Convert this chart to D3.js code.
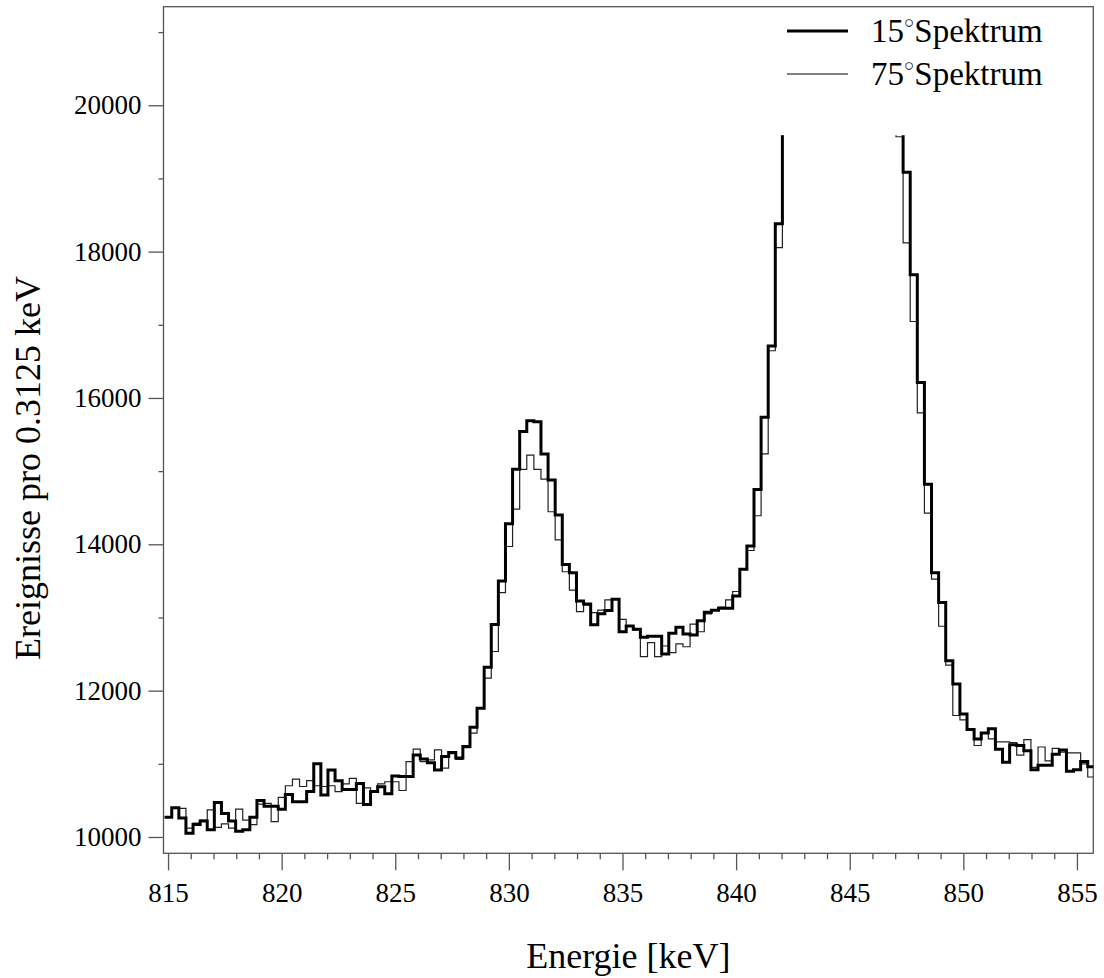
<!DOCTYPE html>
<html>
<head>
<meta charset="utf-8">
<script src="https://cdn.jsdelivr.net/npm/d3@7"></script>
<style>
  body { margin: 0; background: #fff; }
  svg { display: block; }
  text { font-family: "Liberation Serif", "Times New Roman", serif; fill: #000; }
</style>
</head>
<body>
<svg id="chart" width="1104" height="978"></svg>
<script>
// binning of both spectra (keV)
const binStart = 814.85;
const binWidth = 0.3125;

// counts per bin, 15 degree spectrum (bins 87-103 are off scale, estimated)
const spec15 = [
  10270, 10400, 10260, 10050, 10170, 10220, 10100, 10470, 10320, 10220,
  10080, 10100, 10270, 10500, 10420, 10420, 10380, 10580, 10480, 10480,
  10620, 11000, 10575, 10915, 10770, 10650, 10650, 10730, 10445, 10620,
  10685, 10590, 10835, 10825, 10825, 11120, 11065, 11015, 10915, 11100,
  11155, 11080, 11235, 11500, 11760, 12320, 12905, 13500, 14280, 15025,
  15540, 15690, 15675, 15235, 14880, 14400, 13725, 13612, 13225, 13185,
  12900, 13050, 13095, 13250, 12805, 12885, 12840, 12730, 12745, 12745,
  12500, 12785, 12865, 12775, 12760, 12955, 13070, 13100, 13125, 13125,
  13295, 13660, 13975, 14750, 15735, 16710, 18380, 24000, 31000, 40000,
  52000, 64000, 74000, 78000, 75000, 67000, 56000, 45000, 36000, 29000,
  24500, 21800, 20400, 19900, 19085, 17685, 16210, 14820, 13610, 13205,
  12410, 12090, 11680, 11470, 11340, 11420, 11480, 11200, 11020, 11260,
  11250, 11180, 10920, 10980, 10980, 11130, 11190, 10900, 10920, 11030,
  10960
];

// counts per bin, 75 degree spectrum (bins 87-102 are off scale, estimated)
const spec75 = [
  10270, 10400, 10390, 10120, 10190, 10230, 10370, 10130, 10180, 10120,
  10380, 10230, 10170, 10450, 10460, 10210, 10540, 10700, 10790, 10690,
  10770, 10700, 10690, 10700, 10620, 10725, 10800, 10460, 10670, 10620,
  10725, 10755, 10755, 10635, 11030, 11200, 11030, 11055, 11190, 10940,
  11140, 11060, 11220, 11420, 11760, 12170, 12535, 13340, 13970, 14480,
  15025, 15220, 15025, 14890, 14445, 14060, 13625, 13375, 13080, 13170,
  13065, 13100, 13240, 13250, 12975, 12885, 12830, 12465, 12655, 12465,
  12610, 12520, 12640, 12600, 12910, 12805, 13050, 13100, 13140, 13240,
  13355, 13660, 13915, 14390, 15235, 16645, 18055, 23000, 30000, 39000,
  51000, 63000, 73000, 77000, 74000, 66000, 55000, 44000, 35000, 28500,
  24000, 21500, 20200, 19570, 18120, 17045, 15795, 14425, 13525, 12880,
  12350, 11660, 11600, 11480, 11250, 11420, 11340, 11300, 11300, 11290,
  11120, 11330, 10950, 11230, 11040, 11210, 11160, 11150, 11150, 11000,
  10820
];

const xRange = [814.8, 855.72];
const yRange = [9777, 21347];
const yClip = 19590;            // histograms are cut off above this

const xMajor = d3.range(815, 856, 5);
const xMinor = d3.range(815, 856, 1).filter(v => v % 5 !== 0);
const yMajor = d3.range(10000, 20001, 2000);
const yMinor = d3.range(11000, 21001, 2000);

const legendItems = [
  {deg: '15', label: 'Spektrum', width: 3},
  {deg: '75', label: 'Spektrum', width: 1.2}
];

const margin = {top: 6.7, left: 163.5};
const W = 929.8, H = 846.6;

const svg = d3.select('#chart');
const g = svg.append('g').attr('transform', `translate(${margin.left},${margin.top})`);

const x = d3.scaleLinear().domain(xRange).range([0, W]);
const y = d3.scaleLinear().domain(yRange).range([H, 0]);

// clip
svg.append('defs').append('clipPath').attr('id', 'clip')
  .append('rect')
  .attr('x', 0).attr('y', y(yClip))
  .attr('width', W).attr('height', H - y(yClip));

// axes
const axisColor = '#555';
function styleAxis(sel) {
  sel.select('.domain').remove();
  sel.selectAll('line').attr('stroke', axisColor).attr('stroke-width', 1.3);
  sel.selectAll('text').style('font-size', '27px').attr('fill', '#000');
}

g.append('g').attr('transform', `translate(0,${H})`)
  .call(d3.axisBottom(x).tickValues(xMinor).tickSize(6).tickFormat(''))
  .call(styleAxis);
g.append('g').attr('transform', `translate(0,${H})`)
  .call(d3.axisBottom(x).tickValues(xMajor).tickSize(17).tickFormat(d3.format('d')))
  .call(styleAxis)
  .call(s => s.selectAll('text').attr('y', 48.5).attr('dy', 0));

g.append('g')
  .call(d3.axisLeft(y).tickValues(yMinor).tickSize(5).tickFormat(''))
  .call(styleAxis);
g.append('g')
  .call(d3.axisLeft(y).tickValues(yMajor).tickSize(15).tickPadding(7).tickFormat(d3.format('d')))
  .call(styleAxis);

// frame
g.append('rect')
  .attr('width', W).attr('height', H)
  .attr('fill', 'none').attr('stroke', axisColor).attr('stroke-width', 1.3);

// histograms
function steps(values) {
  const pts = values.map((v, i) => [binStart + i * binWidth, v]);
  pts.push([binStart + values.length * binWidth, values[values.length - 1]]);
  return pts;
}
const line = d3.line()
  .x(d => x(d[0]))
  .y(d => y(d[1]))
  .curve(d3.curveStepAfter);

const plot = g.append('g').attr('clip-path', 'url(#clip)');
plot.append('path').datum(steps(spec75))
  .attr('d', line).attr('fill', 'none')
  .attr('stroke', '#222').attr('stroke-width', 1.2);
plot.append('path').datum(steps(spec15))
  .attr('d', line).attr('fill', 'none')
  .attr('stroke', '#000').attr('stroke-width', 3)
  .attr('stroke-linejoin', 'miter');

// legend
const legend = svg.append('g');
legendItems.forEach((d, i) => {
  const ly = 31 + i * 43;
  legend.append('line')
    .attr('x1', 787).attr('x2', 848).attr('y1', ly).attr('y2', ly)
    .attr('stroke', '#000').attr('stroke-width', d.width);
  const t = legend.append('text')
    .attr('x', 871).attr('y', ly + 11)
    .style('font-size', '33px');
  t.append('tspan').text(d.deg);
  t.append('tspan').text('○').style('font-size', '17px').attr('dy', -14);
  t.append('tspan').text(d.label).attr('dy', 14);
});

// titles
svg.append('text')
  .attr('x', margin.left + W / 2).attr('y', 968)
  .attr('text-anchor', 'middle')
  .style('font-size', '36px')
  .text('Energie [keV]');

svg.append('text')
  .attr('transform', `translate(40,${margin.top + H / 2 + 38}) rotate(-90)`)
  .attr('text-anchor', 'middle')
  .style('font-size', '36px')
  .text('Ereignisse pro 0.3125 keV');
</script>
</body>
</html>
